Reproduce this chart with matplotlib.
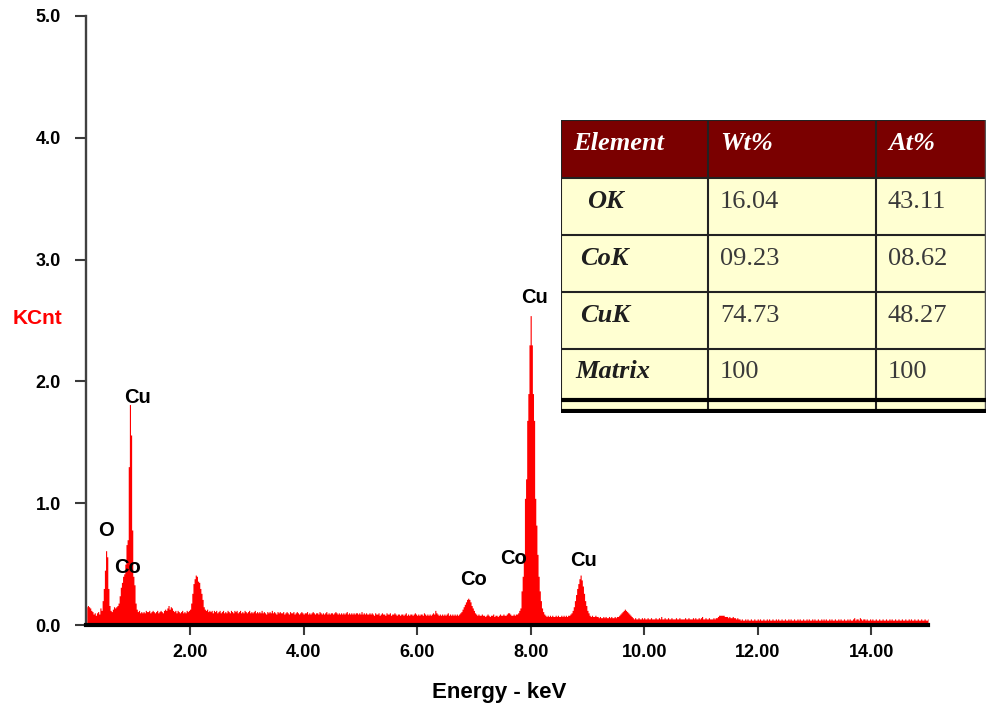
import numpy as np
import matplotlib
matplotlib.use("Agg")
import matplotlib.pyplot as plt
from matplotlib.patches import Rectangle

# ---------------------------------------------------------------------------
# EDS spectrum: counts (KCnt) per 0.02 keV channel, first channel at 0.18 keV
# each row below spans 0.5 keV (25 channels)
# ---------------------------------------------------------------------------
E_START = 0.18
E_STEP = 0.02
counts = [
    # 0.18 - 0.66
    0.15, 0.16, 0.15, 0.14, 0.12, 0.11, 0.09, 0.10, 0.08, 0.10, 0.11, 0.09, 0.14,
    0.12, 0.20, 0.30, 0.45, 0.61, 0.56, 0.30, 0.16, 0.12, 0.11, 0.13, 0.15,
    # 0.68 - 1.16
    0.14, 0.15, 0.16, 0.18, 0.24, 0.31, 0.35, 0.40, 0.42, 0.50, 0.66, 0.70, 1.30,
    1.81, 1.56, 0.78, 0.40, 0.33, 0.18, 0.13, 0.11, 0.12, 0.10, 0.11, 0.10,
    # 1.18 - 1.66
    0.11, 0.10, 0.12, 0.11, 0.11, 0.12, 0.10, 0.11, 0.12, 0.11, 0.10, 0.11, 0.12,
    0.10, 0.11, 0.12, 0.11, 0.10, 0.12, 0.13, 0.12, 0.14, 0.16, 0.13, 0.15,
    # 1.68 - 2.16
    0.14, 0.12, 0.11, 0.12, 0.10, 0.12, 0.11, 0.10, 0.11, 0.12, 0.10, 0.11, 0.10,
    0.12, 0.11, 0.12, 0.13, 0.18, 0.26, 0.34, 0.38, 0.41, 0.40, 0.36, 0.35,
    # 2.18 - 2.66
    0.30, 0.26, 0.21, 0.15, 0.13, 0.12, 0.13, 0.11, 0.12, 0.11, 0.12, 0.10, 0.12,
    0.11, 0.12, 0.10, 0.11, 0.12, 0.10, 0.11, 0.12, 0.10, 0.11, 0.10, 0.12,
    # 2.68 - 3.16
    0.11, 0.10, 0.12, 0.11, 0.10, 0.12, 0.11, 0.12, 0.10, 0.11, 0.12, 0.10, 0.11,
    0.10, 0.12, 0.11, 0.10, 0.11, 0.12, 0.10, 0.11, 0.10, 0.11, 0.12, 0.10,
    # 3.18 - 3.66
    0.11, 0.10, 0.11, 0.10, 0.12, 0.10, 0.11, 0.10, 0.09, 0.11, 0.10, 0.11, 0.10,
    0.12, 0.10, 0.11, 0.10, 0.09, 0.11, 0.10, 0.11, 0.10, 0.10, 0.11, 0.09,
    # 3.68 - 4.16
    0.10, 0.11, 0.10, 0.09, 0.11, 0.10, 0.10, 0.11, 0.09, 0.10, 0.11, 0.10, 0.09,
    0.10, 0.11, 0.10, 0.09, 0.10, 0.10, 0.11, 0.09, 0.10, 0.09, 0.10, 0.11,
    # 4.18 - 4.66
    0.10, 0.09, 0.10, 0.10, 0.09, 0.11, 0.10, 0.09, 0.10, 0.09, 0.10, 0.11, 0.09,
    0.10, 0.09, 0.10, 0.10, 0.09, 0.10, 0.11, 0.10, 0.09, 0.10, 0.09, 0.10,
    # 4.68 - 5.16
    0.09, 0.10, 0.09, 0.10, 0.11, 0.09, 0.10, 0.09, 0.10, 0.09, 0.10, 0.09, 0.10,
    0.10, 0.09, 0.10, 0.09, 0.11, 0.09, 0.10, 0.09, 0.10, 0.09, 0.09, 0.10,
    # 5.18 - 5.66
    0.09, 0.10, 0.09, 0.08, 0.10, 0.09, 0.09, 0.10, 0.08, 0.09, 0.10, 0.09, 0.09,
    0.08, 0.10, 0.09, 0.09, 0.10, 0.08, 0.09, 0.09, 0.10, 0.09, 0.08, 0.09,
    # 5.68 - 6.16
    0.09, 0.08, 0.09, 0.09, 0.08, 0.09, 0.10, 0.08, 0.09, 0.08, 0.09, 0.09, 0.08,
    0.09, 0.10, 0.09, 0.08, 0.09, 0.08, 0.09, 0.09, 0.08, 0.10, 0.09, 0.08,
    # 6.18 - 6.66
    0.09, 0.08, 0.09, 0.08, 0.09, 0.10, 0.09, 0.12, 0.10, 0.09, 0.08, 0.09, 0.08,
    0.09, 0.08, 0.09, 0.08, 0.09, 0.10, 0.08, 0.09, 0.08, 0.09, 0.08, 0.09,
    # 6.68 - 7.16
    0.08, 0.09, 0.08, 0.09, 0.10, 0.11, 0.13, 0.15, 0.17, 0.19, 0.21, 0.22, 0.21,
    0.19, 0.16, 0.14, 0.12, 0.10, 0.09, 0.08, 0.09, 0.08, 0.08, 0.09, 0.08,
    # 7.18 - 7.66
    0.08, 0.07, 0.08, 0.09, 0.08, 0.07, 0.08, 0.08, 0.09, 0.07, 0.08, 0.08, 0.07,
    0.08, 0.09, 0.08, 0.08, 0.09, 0.08, 0.08, 0.09, 0.10, 0.10, 0.09, 0.08,
    # 7.68 - 8.16
    0.08, 0.09, 0.08, 0.09, 0.09, 0.10, 0.12, 0.14, 0.28, 0.40, 0.58, 1.04, 1.20,
    1.68, 1.90, 2.30, 2.54, 2.30, 1.90, 1.68, 1.04, 0.82, 0.58, 0.40, 0.28,
    # 8.18 - 8.66
    0.20, 0.14, 0.11, 0.09, 0.08, 0.07, 0.08, 0.07, 0.08, 0.07, 0.08, 0.07, 0.07,
    0.08, 0.07, 0.08, 0.07, 0.07, 0.08, 0.07, 0.08, 0.07, 0.08, 0.07, 0.08,
    # 8.68 - 9.16
    0.08, 0.09, 0.10, 0.12, 0.15, 0.20, 0.25, 0.30, 0.34, 0.38, 0.41, 0.37, 0.32,
    0.26, 0.20, 0.16, 0.12, 0.10, 0.08, 0.07, 0.08, 0.07, 0.07, 0.08, 0.07,
    # 9.18 - 9.66
    0.07, 0.06, 0.07, 0.06, 0.06, 0.07, 0.06, 0.07, 0.06, 0.06, 0.07, 0.06, 0.07,
    0.06, 0.06, 0.07, 0.06, 0.07, 0.07, 0.08, 0.09, 0.10, 0.11, 0.12, 0.13,
    # 9.68 - 10.16
    0.12, 0.11, 0.10, 0.09, 0.08, 0.07, 0.06, 0.05, 0.06, 0.05, 0.05, 0.06, 0.05,
    0.05, 0.06, 0.05, 0.06, 0.05, 0.05, 0.06, 0.05, 0.05, 0.06, 0.05, 0.05,
    # 10.18 - 10.66
    0.05, 0.06, 0.05, 0.05, 0.06, 0.05, 0.07, 0.05, 0.05, 0.06, 0.05, 0.05, 0.06,
    0.05, 0.05, 0.06, 0.05, 0.05, 0.05, 0.06, 0.05, 0.05, 0.06, 0.05, 0.05,
    # 10.68 - 11.16
    0.05, 0.05, 0.06, 0.05, 0.05, 0.06, 0.05, 0.05, 0.05, 0.06, 0.05, 0.06, 0.05,
    0.05, 0.06, 0.05, 0.06, 0.07, 0.05, 0.05, 0.06, 0.05, 0.05, 0.06, 0.05,
    # 11.18 - 11.66
    0.05, 0.05, 0.06, 0.05, 0.06, 0.06, 0.07, 0.08, 0.08, 0.08, 0.08, 0.08, 0.07,
    0.07, 0.07, 0.06, 0.07, 0.06, 0.06, 0.07, 0.06, 0.06, 0.05, 0.06, 0.05,
    # 11.68 - 12.16
    0.05, 0.04, 0.05, 0.04, 0.04, 0.05, 0.04, 0.05, 0.04, 0.04, 0.05, 0.04, 0.04,
    0.05, 0.04, 0.04, 0.05, 0.04, 0.05, 0.04, 0.04, 0.05, 0.04, 0.04, 0.05,
    # 12.18 - 12.66
    0.04, 0.05, 0.04, 0.04, 0.05, 0.04, 0.04, 0.05, 0.04, 0.05, 0.04, 0.04, 0.05,
    0.04, 0.04, 0.05, 0.04, 0.04, 0.05, 0.04, 0.05, 0.04, 0.04, 0.05, 0.04,
    # 12.68 - 13.16
    0.04, 0.05, 0.04, 0.05, 0.04, 0.04, 0.05, 0.04, 0.04, 0.05, 0.04, 0.05, 0.04,
    0.04, 0.05, 0.04, 0.05, 0.04, 0.04, 0.05, 0.04, 0.04, 0.05, 0.04, 0.05,
    # 13.18 - 13.66
    0.04, 0.05, 0.04, 0.04, 0.05, 0.04, 0.05, 0.04, 0.04, 0.05, 0.04, 0.04, 0.05,
    0.04, 0.05, 0.04, 0.04, 0.05, 0.04, 0.04, 0.05, 0.04, 0.05, 0.04, 0.04,
    # 13.68 - 14.16
    0.05, 0.06, 0.04, 0.05, 0.05, 0.04, 0.06, 0.05, 0.04, 0.05, 0.05, 0.04, 0.05,
    0.04, 0.04, 0.05, 0.04, 0.05, 0.04, 0.04, 0.05, 0.04, 0.04, 0.05, 0.04,
    # 14.18 - 14.66
    0.04, 0.05, 0.04, 0.04, 0.05, 0.04, 0.04, 0.05, 0.04, 0.05, 0.04, 0.04, 0.05,
    0.04, 0.04, 0.05, 0.04, 0.04, 0.05, 0.04, 0.04, 0.05, 0.04, 0.04, 0.05,
    # 14.68 - 15.00
    0.04, 0.05, 0.04, 0.04, 0.05, 0.04, 0.04, 0.05, 0.04, 0.04, 0.05, 0.04, 0.04,
    0.05, 0.04, 0.04, 0.05,
]
assert len(counts) == 742, len(counts)

# identified emission lines (element, line energy in keV)
line_elements = ["O", "Co", "Cu", "Co", "Co", "Cu", "Cu"]
line_energies = [0.52, 0.78, 0.94, 6.92, 7.65, 8.00, 8.88]

# axis ticks
y_ticks = [0.0, 1.0, 2.0, 3.0, 4.0, 5.0]
x_ticks = [2.0, 4.0, 6.0, 8.0, 10.0, 12.0, 14.0]

# quantification table
table_header = ["Element", "Wt%", "At%"]
elements = ["OK", "CoK", "CuK", "Matrix"]
wt_pct = ["16.04", "09.23", "74.73", "100"]
at_pct = ["43.11", "08.62", "48.27", "100"]

# ---------------------------------------------------------------------------
plt.rcParams["font.family"] = ["Liberation Sans", "DejaVu Sans"]

W, H = 990, 711
fig = plt.figure(figsize=(W / 100, H / 100), dpi=100)
fig.patch.set_facecolor("white")

ax = fig.add_axes([86 / W, 1 - 625 / H, 842 / W, 609 / H])

energy = E_START + E_STEP * np.arange(len(counts))
ax.fill_between(energy, counts, step="mid", color="#ff0000", linewidth=0)

ax.set_xlim(0.166, 15.0)
ax.set_ylim(0, 5.0)

for side in ("top", "right"):
    ax.spines[side].set_visible(False)
ax.spines["left"].set_color("#404040")
ax.spines["left"].set_linewidth(1.7)
ax.spines["bottom"].set_color("black")
ax.spines["bottom"].set_linewidth(3.0)
ax.spines["bottom"].set_zorder(5)

ax.set_yticks(y_ticks)
ax.set_yticklabels([f"{v:.1f}" for v in y_ticks])
ax.set_xticks(x_ticks)
ax.set_xticklabels([f"{v:.2f}" for v in x_ticks])
ax.tick_params(axis="y", direction="out", length=8, width=1.5, color="#3a3a3a",
               pad=10, labelsize=13)
ax.tick_params(axis="x", direction="out", length=7.5, width=1.5, color="#3a3a3a",
               pad=6, labelsize=13)
for lab in ax.get_xticklabels() + ax.get_yticklabels():
    lab.set_fontweight("bold")

ax.set_xlabel("Energy - keV", fontsize=16, fontweight="bold")
ax.xaxis.set_label_coords(0.4905, -0.094)
ax.set_ylabel("KCnt", fontsize=15, fontweight="bold", color="#ff0000",
              rotation=0, ha="center", va="center")
ax.yaxis.set_label_coords(-0.0576, 0.504)

# element labels above their lines
label_offsets = [(-0.4, 14.9), (4.8, 14.2), (5.1, 5.4), (3.1, 14.7),
                 (1.6, 40.7), (3.1, 12.7), (2.4, 10.4)]
for name, e, (dx, dy) in zip(line_elements, line_energies, label_offsets):
    idx = int(round((e - E_START) / E_STEP))
    ax.annotate(name, xy=(e, counts[idx]), xytext=(dx, dy),
                textcoords="offset points", ha="center", va="center",
                fontsize=14.5, fontweight="bold", color="black", zorder=6)

# ---------------------------------------------------------------------------
# quantification table drawn in its own axes (units: pixels of the table box)
TW, TH = 425, 293
tab = fig.add_axes([561 / W, 1 - 413 / H, TW / W, TH / H])
tab.set_xlim(0, TW)
tab.set_ylim(TH, 0)
tab.axis("off")

col_edges = [0, 147, 315, TW]
row_edges = [0, 58, 115, 172, 229, 280]
bottom_rule = 291
text_x = [12, 159, 327]
label_x = [26, 19, 19, 14]
header_base = 30
row_base = [88, 145, 202, 258]

tab.add_patch(Rectangle((0, 0), TW, row_edges[1], facecolor="#7a0000",
                        edgecolor="none"))
tab.add_patch(Rectangle((0, row_edges[1]), TW, TH - row_edges[1],
                        facecolor="#ffffd2", edgecolor="none"))

grid_kw = dict(color="#222222", linewidth=1.5, solid_capstyle="butt")
for y in row_edges[1:-1]:
    tab.plot([0, TW], [y, y], **grid_kw)
for x in col_edges[1:-1]:
    tab.plot([x, x], [0, TH], **grid_kw)
tab.plot([0, TW], [0, 0], **grid_kw)
tab.plot([0, 0], [0, TH], **grid_kw)
tab.plot([TW, TW], [0, TH], color="#555555", linewidth=2.5)
tab.plot([0, TW], [row_edges[-1], row_edges[-1]], color="black", linewidth=3)
tab.plot([0, TW], [bottom_rule, bottom_rule], color="black", linewidth=3)

serif = ["Liberation Serif", "DejaVu Serif"]
for x, s in zip(text_x, table_header):
    tab.text(x, header_base, s, family=serif, fontsize=19, fontweight="bold",
             fontstyle="italic", color="white", va="baseline", ha="left")
for i, (el, w, a) in enumerate(zip(elements, wt_pct, at_pct)):
    tab.text(label_x[i], row_base[i], el, family=serif, fontsize=19,
             fontweight="bold", fontstyle="italic", color="#1e1e1e",
             va="baseline", ha="left")
    tab.text(text_x[1], row_base[i], w, family=serif, fontsize=19,
             color="#3a3a3a", va="baseline", ha="left")
    tab.text(text_x[2], row_base[i], a, family=serif, fontsize=19,
             color="#3a3a3a", va="baseline", ha="left")

fig.savefig("out.png", dpi=100, facecolor="white")
